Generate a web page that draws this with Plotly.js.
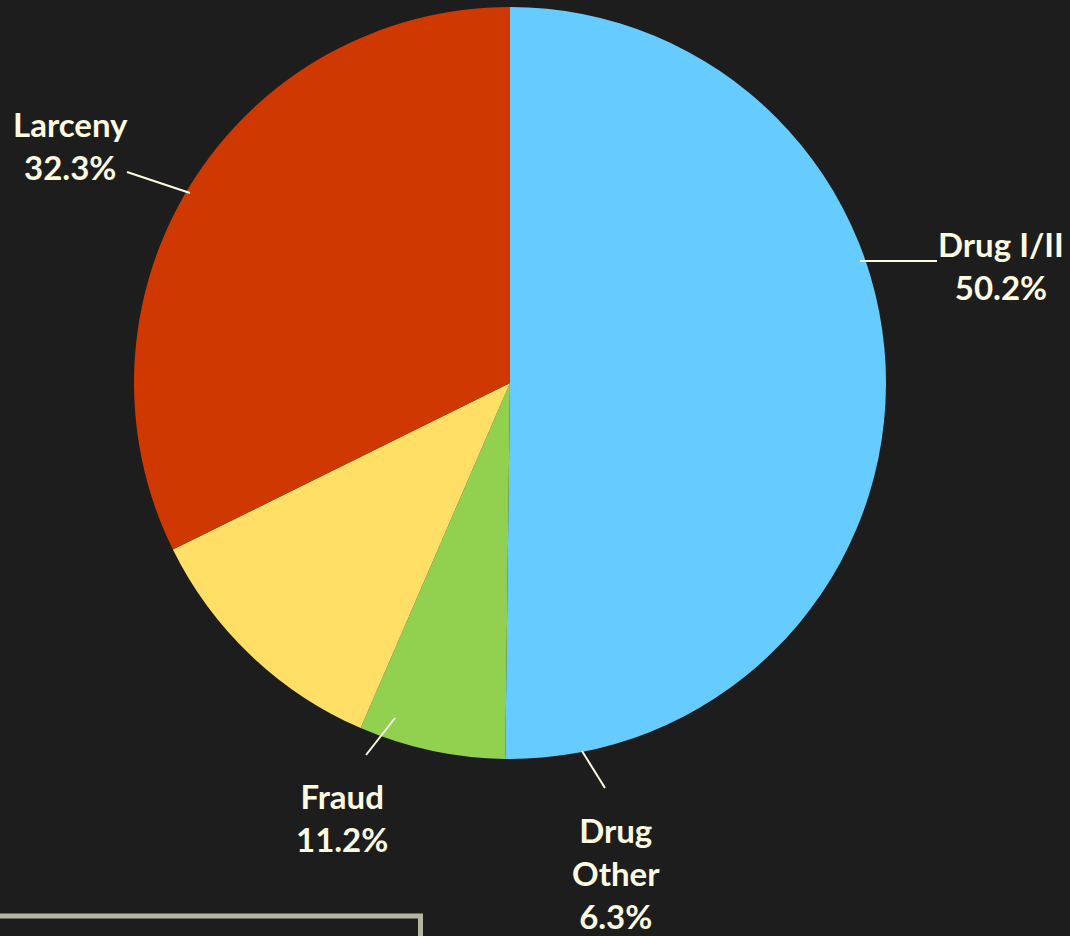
<!DOCTYPE html>
<html>
<head>
<meta charset="utf-8">
<script src="https://cdn.plot.ly/plotly-3.0.1.min.js"></script>
<style>
html,body{margin:0;padding:0;background:#1d1d1d;}
#chart{width:1070px;height:936px;}
</style>
</head>
<body>
<div id="chart"></div>
<script>
// ---- data ----
var categories = ["Drug I/II", "Drug Other", "Fraud", "Larceny"];
var labelText = ["Drug I/II", "Drug<br>Other", "Fraud", "Larceny"];
var values = [50.2, 6.3, 11.2, 32.3];
var colors = ["#66CCFF", "#92D050", "#FFDF66", "#CF3800"];

// ---- layout helpers (pixel placement of labels / leaders) ----
var W = 1070, H = 936;
function px(x){ return x / W; }
function py(y){ return 1 - y / H; }

// label block centre (pixels) and leader line endpoints (pixels)
var labelPos = [
  {x: 1001, y: 265},
  {x: 616, y: 873},
  {x: 342, y: 817},
  {x: 70, y: 145}
];
var leaders = [
  [860, 261, 937, 261],
  [582, 751, 605, 788],
  [395, 718, 366, 755],
  [190, 193, 127, 172]
];

var txtColor = "#FDFBE2";
var fontFam = "Lato, 'Open Sans', sans-serif";

var annotations = categories.map(function(c, i){
  return {
    xref: "paper", yref: "paper",
    x: px(labelPos[i].x), y: py(labelPos[i].y),
    xanchor: "center", yanchor: "middle",
    text: "<b>" + labelText[i] + "<br>" + values[i].toFixed(1) + "%</b>",
    showarrow: false, align: "center",
    font: {family: fontFam, size: 33, color: txtColor}
  };
});

var shapes = leaders.map(function(l){
  return {type: "line", xref: "paper", yref: "paper",
    x0: px(l[0]), y0: py(l[1]), x1: px(l[2]), y1: py(l[3]),
    line: {color: txtColor, width: 2}};
});
// partial frame at bottom-left
shapes.push({type: "rect", xref: "paper", yref: "paper",
  x0: px(-10), x1: px(420.5), y0: py(916), y1: py(960),
  line: {color: "#B6B5A3", width: 5}, fillcolor: "rgba(0,0,0,0)"});

var cx = 510, cy = 383, r = 376;
var trace = {
  type: "pie",
  labels: categories,
  values: values,
  sort: false,
  direction: "clockwise",
  rotation: 0,
  textinfo: "none",
  hoverinfo: "label+percent",
  marker: {colors: colors, line: {width: 0}},
  domain: {x: [px(cx - r), px(cx + r)], y: [py(cy + r), py(cy - r)]},
  showlegend: false
};

var layout = {
  width: W, height: H,
  margin: {l: 0, r: 0, t: 0, b: 0},
  paper_bgcolor: "#1d1d1d",
  plot_bgcolor: "#1d1d1d",
  showlegend: false,
  annotations: annotations,
  shapes: shapes
};

Plotly.newPlot("chart", [trace], layout, {displayModeBar: false});
</script>
</body>
</html>
